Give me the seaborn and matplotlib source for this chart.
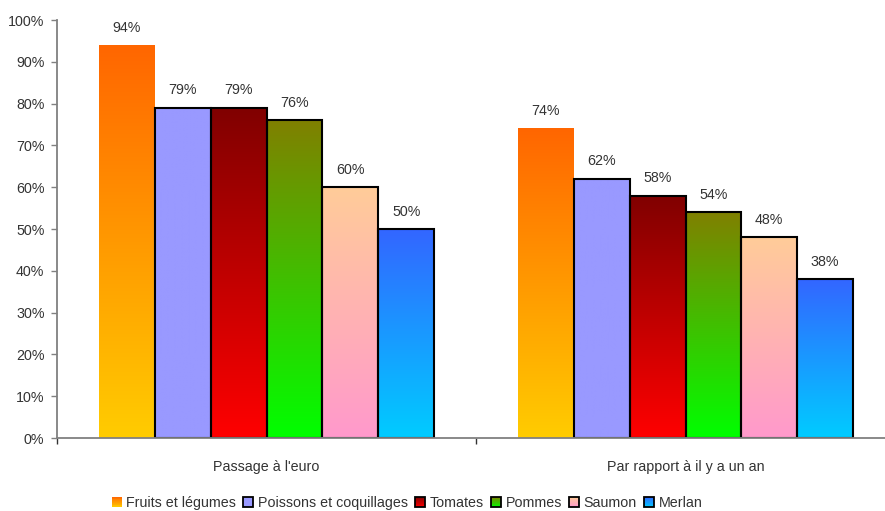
import numpy as np
import pandas as pd
import matplotlib
matplotlib.use("Agg")
import matplotlib.pyplot as plt
from matplotlib.colors import LinearSegmentedColormap, to_rgb
from matplotlib.patches import Rectangle, Patch
from matplotlib.legend_handler import HandlerBase
import seaborn as sns

# Data
groups = ["Passage à l'euro", "Par rapport à il y a un an"]
series = ["Fruits et légumes", "Poissons et coquillages", "Tomates", "Pommes", "Saumon", "Merlan"]
fruits = [94, 74]
poissons = [79, 62]
tomates = [79, 58]
pommes = [76, 54]
saumon = [60, 48]
merlan = [50, 38]
values = [fruits, poissons, tomates, pommes, saumon, merlan]

# Gradient fills (top colour, bottom colour) and edge
gradients = {
    "Fruits et légumes": ("#FF6600", "#FFCC00"),
    "Poissons et coquillages": ("#9999FF", "#9999FF"),
    "Tomates": ("#800000", "#FF0000"),
    "Pommes": ("#808000", "#00FF00"),
    "Saumon": ("#FFCC99", "#FF99CC"),
    "Merlan": ("#3366FF", "#00CCFF"),
}
edges = {s: "black" for s in series}
edges["Fruits et légumes"] = "none"

rows = []
for s, vals in zip(series, values):
    for g, v in zip(groups, vals):
        rows.append({"groupe": g, "serie": s, "valeur": v})
df = pd.DataFrame(rows)

sns.set_style("white")
plt.rcParams["font.family"] = ["Liberation Sans Narrow", "Liberation Sans", "DejaVu Sans"]
text_color = "#333333"
fs = 10.3

fig = plt.figure(figsize=(8.85, 5.11), dpi=100)
ax = fig.add_axes([57 / 885, 73 / 511, 838 / 885, 418 / 511])

sns.barplot(data=df, x="groupe", y="valeur", hue="serie", hue_order=series,
            order=groups, palette=[gradients[s][1] for s in series],
            width=0.8, gap=0, legend=False, ax=ax, errorbar=None)

ax.set_xlim(-0.5, 1.5)
ax.set_ylim(0, 100)

for cont, s in zip(ax.containers, series):
    top, bottom = gradients[s]
    cmap = LinearSegmentedColormap.from_list(s, [bottom, top])
    grad = np.linspace(0, 1, 256).reshape(-1, 1)
    for bar, v in zip(cont.patches, values[series.index(s)]):
        x0, y0 = bar.get_x(), bar.get_y()
        w, h = bar.get_width(), bar.get_height()
        ax.imshow(grad, cmap=cmap, origin="lower", aspect="auto",
                  extent=(x0, x0 + w, y0, y0 + h), zorder=1.5,
                  interpolation="bilinear")
        bar.set_facecolor("none")
        bar.set_edgecolor(edges[s])
        bar.set_linewidth(1.5)
        bar.set_zorder(2)
        ax.annotate(f"{v}%", (x0 + w / 2, y0 + h), xytext=(0, 7.5),
                    textcoords="offset points", ha="center", va="bottom",
                    fontsize=fs, color=text_color)

ax.set_xlim(-0.5, 1.5)
ax.set_ylim(0, 100)

# Axes styling
for side in ["top", "right"]:
    ax.spines[side].set_visible(False)
for side in ["left", "bottom"]:
    ax.spines[side].set_color("#808080")
    ax.spines[side].set_linewidth(1.3)
    ax.spines[side].set_zorder(3)

ax.set_yticks(np.arange(0, 101, 10))
ax.set_yticklabels([f"{t}%" for t in range(0, 101, 10)])
ax.tick_params(axis="y", direction="out", length=4, width=1, color="#808080",
               pad=5, labelsize=fs, labelcolor=text_color, left=True)
ax.set_xticks([0, 1])
ax.set_xticklabels(groups)
ax.set_xticks([-0.5, 0.5, 1.5], minor=True)
ax.tick_params(axis="x", which="major", length=0, pad=16, labelsize=fs,
               labelcolor=text_color)
ax.tick_params(axis="x", which="minor", direction="out", length=4, width=1,
               color="#333333", bottom=True)
ax.set_xlabel("")
ax.set_ylabel("")
ax.grid(False)


class GradientHandler(HandlerBase):
    def create_artists(self, legend, orig_handle, xdescent, ydescent,
                       width, height, fontsize, trans):
        top, bottom = gradients[orig_handle.get_label()]
        c_top, c_bot = np.array(to_rgb(top)), np.array(to_rgb(bottom))
        size = height
        x = -xdescent + (width - size) / 2
        y = -ydescent
        n = 12
        arts = []
        for i in range(n):
            t = (i + 0.5) / n
            col = c_bot * (1 - t) + c_top * t
            arts.append(Rectangle((x, y + size * i / n), size, size / n + 0.05,
                                  facecolor=col, edgecolor="none", transform=trans))
        ec = edges[orig_handle.get_label()]
        arts.append(Rectangle((x, y), size, size, facecolor="none",
                              edgecolor=ec, linewidth=1.3, transform=trans))
        return arts


handles = [Patch(label=s) for s in series]
fig.legend(handles=handles, labels=series, loc="center",
           bbox_to_anchor=(407 / 885, 1 - 503 / 511), ncol=6, frameon=False,
           fontsize=fs, labelcolor=text_color, handlelength=0.72,
           handleheight=0.72, handletextpad=0.3, columnspacing=0.5,
           borderaxespad=0, handler_map={Patch: GradientHandler()})

fig.savefig("out.png", dpi=100)
